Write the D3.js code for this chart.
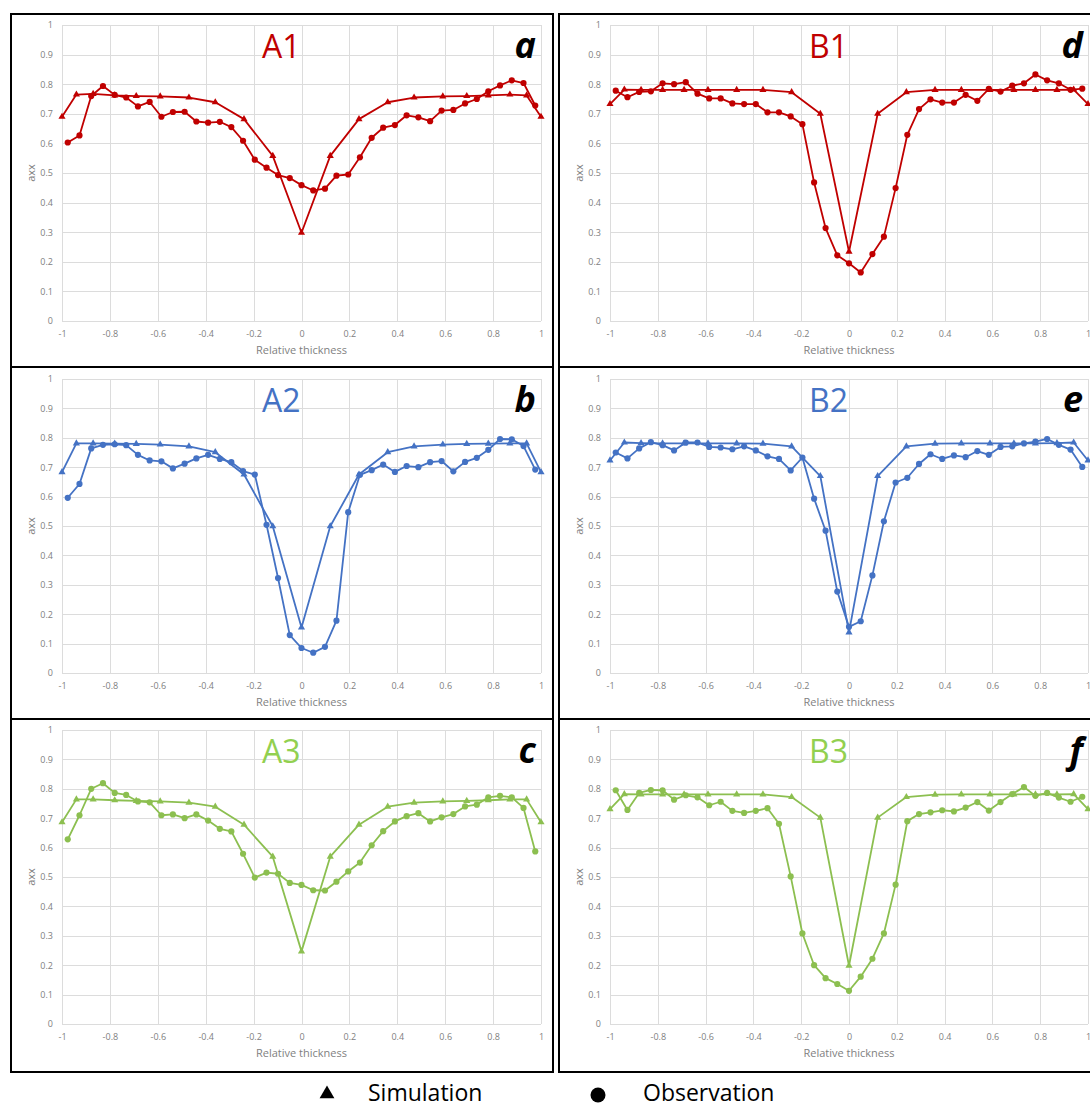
<!DOCTYPE html>
<html>
<head>
<meta charset="utf-8">
<script src="https://cdn.jsdelivr.net/npm/d3@7"></script>
<style>
  html, body { margin: 0; padding: 0; background: #fff; }
  svg { display: block; }
</style>
</head>
<body>
<svg id="chart" width="1090" height="1108"></svg>
<script>
// ---------------- Data ----------------
const simX = [-1, -0.94, -0.87, -0.78, -0.69, -0.59, -0.47, -0.36, -0.24, -0.12, 0,
              0.12, 0.24, 0.36, 0.47, 0.59, 0.69, 0.78, 0.87, 0.94, 1];
const obsX = [-0.976, -0.927, -0.878, -0.829, -0.780, -0.732, -0.683, -0.634, -0.585, -0.537,
              -0.488, -0.439, -0.390, -0.341, -0.293, -0.244, -0.195, -0.146, -0.098, -0.049, 0,
              0.049, 0.098, 0.146, 0.195, 0.244, 0.293, 0.341, 0.390, 0.439, 0.488,
              0.537, 0.585, 0.634, 0.683, 0.732, 0.780, 0.829, 0.878, 0.927, 0.976];

const xTicks = [-1, -0.8, -0.6, -0.4, -0.2, 0, 0.2, 0.4, 0.6, 0.8, 1];
const yTicks = [0, 0.1, 0.2, 0.3, 0.4, 0.5, 0.6, 0.7, 0.8, 0.9, 1];

const simA1 = [0.69, 0.765, 0.767, 0.762, 0.76, 0.759, 0.755, 0.739, 0.682, 0.558, 0.298,
               0.558, 0.682, 0.739, 0.755, 0.759, 0.76, 0.762, 0.765, 0.762, 0.69];
const obsA1 = [0.603, 0.627, 0.76, 0.794, 0.764, 0.755, 0.725, 0.74, 0.69, 0.706,
               0.707, 0.674, 0.67, 0.673, 0.655, 0.609, 0.545, 0.518, 0.493, 0.483, 0.459,
               0.441, 0.447, 0.491, 0.495, 0.553, 0.619, 0.653, 0.662, 0.695, 0.688,
               0.675, 0.711, 0.713, 0.735, 0.75, 0.776, 0.796, 0.813, 0.804, 0.728];

const simA2 = [0.683, 0.781, 0.781, 0.78, 0.779, 0.777, 0.771, 0.751, 0.675, 0.499, 0.155,
               0.499, 0.675, 0.751, 0.771, 0.777, 0.779, 0.78, 0.781, 0.781, 0.683];
const obsA2 = [0.596, 0.643, 0.764, 0.776, 0.778, 0.775, 0.742, 0.723, 0.72, 0.696,
               0.712, 0.73, 0.742, 0.728, 0.717, 0.687, 0.675, 0.504, 0.323, 0.129, 0.085,
               0.069, 0.089, 0.178, 0.547, 0.674, 0.69, 0.709, 0.684, 0.704, 0.7,
               0.717, 0.721, 0.686, 0.718, 0.732, 0.759, 0.796, 0.795, 0.772, 0.692];

const simA3 = [0.686, 0.764, 0.764, 0.761, 0.759, 0.757, 0.753, 0.739, 0.678, 0.569, 0.247,
               0.569, 0.678, 0.739, 0.753, 0.757, 0.759, 0.761, 0.764, 0.764, 0.686];
const obsA3 = [0.628, 0.71, 0.8, 0.819, 0.786, 0.779, 0.757, 0.754, 0.71, 0.713,
               0.7, 0.713, 0.692, 0.664, 0.655, 0.579, 0.498, 0.515, 0.511, 0.48, 0.473,
               0.455, 0.454, 0.484, 0.519, 0.549, 0.608, 0.656, 0.689, 0.707, 0.717,
               0.689, 0.703, 0.714, 0.74, 0.746, 0.771, 0.776, 0.771, 0.735, 0.587];

const simB1 = [0.733, 0.782, 0.781, 0.781, 0.781, 0.781, 0.781, 0.781, 0.773, 0.70, 0.234,
               0.70, 0.773, 0.781, 0.781, 0.781, 0.781, 0.781, 0.781, 0.782, 0.733];
const obsB1 = [0.778, 0.756, 0.774, 0.776, 0.803, 0.8, 0.807, 0.768, 0.752, 0.752,
               0.735, 0.733, 0.733, 0.705, 0.705, 0.691, 0.665, 0.468, 0.314, 0.222, 0.195,
               0.164, 0.226, 0.285, 0.449, 0.629, 0.716, 0.749, 0.738, 0.738, 0.764,
               0.744, 0.784, 0.775, 0.795, 0.803, 0.833, 0.813, 0.803, 0.781, 0.785];

const simB2 = [0.723, 0.784, 0.782, 0.781, 0.781, 0.781, 0.781, 0.78, 0.771, 0.67, 0.138,
               0.67, 0.771, 0.78, 0.781, 0.781, 0.781, 0.781, 0.782, 0.784, 0.723];
const obsB2 = [0.75, 0.73, 0.764, 0.785, 0.775, 0.757, 0.784, 0.784, 0.769, 0.767,
               0.761, 0.771, 0.757, 0.737, 0.728, 0.689, 0.733, 0.593, 0.484, 0.277, 0.157,
               0.176, 0.332, 0.516, 0.648, 0.664, 0.711, 0.744, 0.728, 0.74, 0.734,
               0.755, 0.742, 0.769, 0.771, 0.781, 0.787, 0.796, 0.776, 0.76, 0.701];

const simB3 = [0.731, 0.782, 0.781, 0.781, 0.781, 0.781, 0.781, 0.781, 0.772, 0.702, 0.198,
               0.702, 0.772, 0.78, 0.781, 0.781, 0.781, 0.781, 0.781, 0.782, 0.731];
const obsB3 = [0.795, 0.728, 0.786, 0.796, 0.795, 0.763, 0.778, 0.771, 0.744, 0.756,
               0.725, 0.718, 0.725, 0.734, 0.681, 0.502, 0.308, 0.2, 0.156, 0.136, 0.113,
               0.161, 0.222, 0.308, 0.474, 0.69, 0.714, 0.72, 0.727, 0.723, 0.736,
               0.755, 0.726, 0.755, 0.782, 0.806, 0.776, 0.786, 0.77, 0.756, 0.773];

const panelTitles = ["A1", "A2", "A3", "B1", "B2", "B3"];
const panelLetters = ["a", "b", "c", "d", "e", "f"];
const simSeries = [simA1, simA2, simA3, simB1, simB2, simB3];
const obsSeries = [obsA1, obsA2, obsA3, obsB1, obsB2, obsB3];

const legendLabels = ["Simulation", "Observation"];

// ---------------- Layout / style ----------------
const RED = "#C00000", BLUE = "#4472C4", GREEN = "#8CBF50";
const lineColors  = [RED, BLUE, GREEN, RED, BLUE, GREEN];
const titleColors = [RED, BLUE, "#92D050", RED, BLUE, "#92D050"];

const cols = [
  { x0: 62,  x1: 541,  boxX: 11,  boxW: 542 },
  { x0: 610, x1: 1088, boxX: 559, boxW: 545 }
];
const rows = [
  { yTop: 25,  yBot: 321,  boxY: 14,  boxH: 353 },
  { yTop: 379, yBot: 673,  boxY: 367, boxH: 352 },
  { yTop: 730, yBot: 1024, boxY: 719, boxH: 353 }
];

const FONT = "'Open Sans', 'Noto Sans', 'DejaVu Sans', sans-serif";
const svg = d3.select("#chart");
svg.append("rect").attr("width", 1090).attr("height", 1108).attr("fill", "#fff");

panelTitles.forEach((title, i) => {
  const c = cols[Math.floor(i / 3)];
  const r = rows[i % 3];
  const color = lineColors[i];

  const x = d3.scaleLinear().domain([-1, 1]).range([c.x0, c.x1]);
  const y = d3.scaleLinear().domain([0, 1]).range([r.yBot, r.yTop]);

  const g = svg.append("g");

  // gridlines
  g.append("g").selectAll("line.v").data(xTicks).join("line")
    .attr("x1", d => Math.round(x(d)) + 0.5).attr("x2", d => Math.round(x(d)) + 0.5)
    .attr("y1", y(1)).attr("y2", y(0))
    .attr("stroke", "#dcdcdc").attr("stroke-width", 1);
  g.append("g").selectAll("line.h").data(yTicks).join("line")
    .attr("x1", x(-1)).attr("x2", x(1))
    .attr("y1", d => Math.round(y(d)) + 0.5).attr("y2", d => Math.round(y(d)) + 0.5)
    .attr("stroke", "#dcdcdc").attr("stroke-width", 1);

  // axes (labels only, Excel style)
  const xAxis = d3.axisBottom(x).tickValues(xTicks).tickSize(0).tickPadding(10)
    .tickFormat(d => String(+d.toFixed(1)));
  const gx = g.append("g").attr("transform", `translate(0,${y(0)})`).call(xAxis);
  gx.select(".domain").remove();
  gx.selectAll("text").attr("font-family", FONT).attr("font-size", 9).attr("fill", "#808080");

  const yAxis = d3.axisLeft(y).tickValues(yTicks).tickSize(0).tickPadding(9)
    .tickFormat(d => String(+d.toFixed(1)));
  const gy = g.append("g").attr("transform", `translate(${x(-1)},0)`).call(yAxis);
  gy.select(".domain").remove();
  gy.selectAll("text").attr("font-family", FONT).attr("font-size", 9).attr("fill", "#808080");

  // axis titles
  g.append("text").attr("x", x(0)).attr("y", y(0) + 33)
    .attr("text-anchor", "middle").attr("font-family", FONT).attr("font-size", 11)
    .attr("fill", "#7f7f7f").text("Relative thickness");
  g.append("text")
    .attr("transform", `translate(${x(-1) - 27},${(y(0) + y(1)) / 2}) rotate(-90)`)
    .attr("text-anchor", "middle").attr("font-family", FONT).attr("font-size", 11)
    .attr("fill", "#7f7f7f").text("axx");

  const sim = simSeries[i].map((v, k) => [simX[k], v]);
  const obs = obsSeries[i].map((v, k) => [obsX[k], v]);
  const line = d3.line().x(d => x(d[0])).y(d => y(d[1]));

  // simulation
  g.append("path").datum(sim).attr("d", line)
    .attr("fill", "none").attr("stroke", color).attr("stroke-width", 1.8)
    .attr("stroke-linejoin", "round");
  g.append("g").selectAll("path").data(sim).join("path")
    .attr("d", d3.symbol(d3.symbolTriangle, 22))
    .attr("transform", d => `translate(${x(d[0])},${y(d[1])})`)
    .attr("fill", color);

  // observation
  g.append("path").datum(obs).attr("d", line)
    .attr("fill", "none").attr("stroke", color).attr("stroke-width", 1.8)
    .attr("stroke-linejoin", "round");
  g.append("g").selectAll("circle").data(obs).join("circle")
    .attr("cx", d => x(d[0])).attr("cy", d => y(d[1])).attr("r", 3.1)
    .attr("fill", color);

  // panel title and letter
  g.append("text").attr("x", x(0) - 1).attr("y", y(1) + 33)
    .attr("text-anchor", "end").attr("font-family", FONT).attr("font-size", 32)
    .attr("fill", titleColors[i]).text(title);
  g.append("text").attr("x", x(1) - 5).attr("y", y(1) + 33)
    .attr("text-anchor", "end").attr("font-family", FONT).attr("font-size", 36)
    .attr("font-weight", "bold").attr("font-style", "italic")
    .attr("fill", "#000").text(panelLetters[i]);

  // panel border
  svg.append("rect").attr("x", c.boxX).attr("y", r.boxY)
    .attr("width", c.boxW).attr("height", r.boxH)
    .attr("fill", "none").attr("stroke", "#000").attr("stroke-width", 2);
});

// ---------------- Legend ----------------
const leg = svg.append("g");
leg.append("path").attr("d", d3.symbol(d3.symbolTriangle, 95))
  .attr("transform", "translate(327,1094)").attr("fill", "#000");
leg.append("text").attr("x", 368).attr("y", 1101).attr("font-family", FONT)
  .attr("font-size", 23).attr("fill", "#000").text(legendLabels[0]);
leg.append("circle").attr("cx", 598).attr("cy", 1095).attr("r", 7.5).attr("fill", "#000");
leg.append("text").attr("x", 643).attr("y", 1101).attr("font-family", FONT)
  .attr("font-size", 23).attr("fill", "#000").text(legendLabels[1]);
</script>
</body>
</html>
